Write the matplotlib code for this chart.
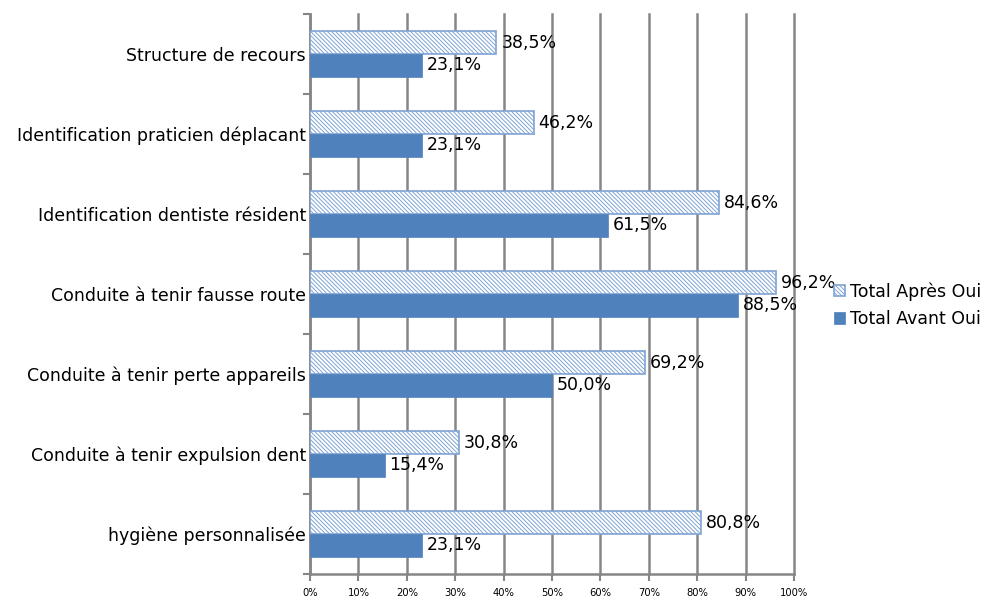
import numpy as np
import matplotlib.pyplot as plt

plt.rcParams['font.family'] = ['DejaVu Sans']
plt.rcParams['hatch.color'] = '#5B8ACB'
plt.rcParams['hatch.linewidth'] = 0.7

categories = ['Structure de recours', 'Identification praticien déplacant',
              'Identification dentiste résident', 'Conduite à tenir fausse route',
              'Conduite à tenir perte appareils', 'Conduite à tenir expulsion dent',
              'hygiène personnalisée']
apres = [38.5, 46.2, 84.6, 96.2, 69.2, 30.8, 80.8]
avant = [23.1, 23.1, 61.5, 88.5, 50.0, 15.4, 23.1]

fig = plt.figure(figsize=(9.93, 5.97), dpi=100)
ax = fig.add_axes([310 / 993, 23 / 597, 484 / 993, 560 / 597])

y = np.arange(len(categories))
h = 0.2875
blue = '#4F81BD'

b1 = ax.barh(y - h / 2, apres, height=h, color='white', edgecolor='#7FA3D3',
             hatch='\\' * 8, linewidth=1.2, label='Total Après Oui', zorder=3)
b2 = ax.barh(y + h / 2, avant, height=h, color=blue, edgecolor=blue,
             linewidth=0.5, label='Total Avant Oui', zorder=3)

for bars, vals in [(b1, apres), (b2, avant)]:
    for bar, v in zip(bars, vals):
        ax.annotate(f'{v:.1f}%'.replace('.', ','),
                    (bar.get_width(), bar.get_y() + bar.get_height() / 2),
                    xytext=(3.5, 0), textcoords='offset points',
                    va='center', ha='left', fontsize=12.5, zorder=4)

ax.set_xlim(0, 100)
ax.set_ylim(len(categories) - 0.5, -0.5)
ax.set_xticks(np.arange(0, 101, 10))
ax.set_xticklabels([f'{t}%' for t in range(0, 101, 10)], fontsize=7.2)
ax.set_yticks(y)
ax.set_yticklabels(categories, fontsize=12.5)
ax.set_yticks(np.arange(-0.5, len(categories), 1), minor=True)
ax.tick_params(axis='y', which='major', length=0, pad=3)
ax.tick_params(axis='y', which='minor', length=5, color='#868686', width=1.5)
ax.tick_params(axis='x', length=5, color='#868686', width=1.5, pad=5)

ax.grid(axis='x', color='#868686', linewidth=1.8, zorder=0)
for line in ax.get_xgridlines():
    line.set_clip_on(False)
for s in ['top', 'right']:
    ax.spines[s].set_visible(False)
for s in ['left', 'bottom']:
    ax.spines[s].set_color('#868686')
    ax.spines[s].set_linewidth(1.8)

ax.legend(loc='center left', bbox_to_anchor=(1.05, 0.48), frameon=False,
          fontsize=12.5, handlelength=0.65, handleheight=0.65, handletextpad=0.3,
          labelspacing=0.55)

fig.savefig('out.png', dpi=100)
